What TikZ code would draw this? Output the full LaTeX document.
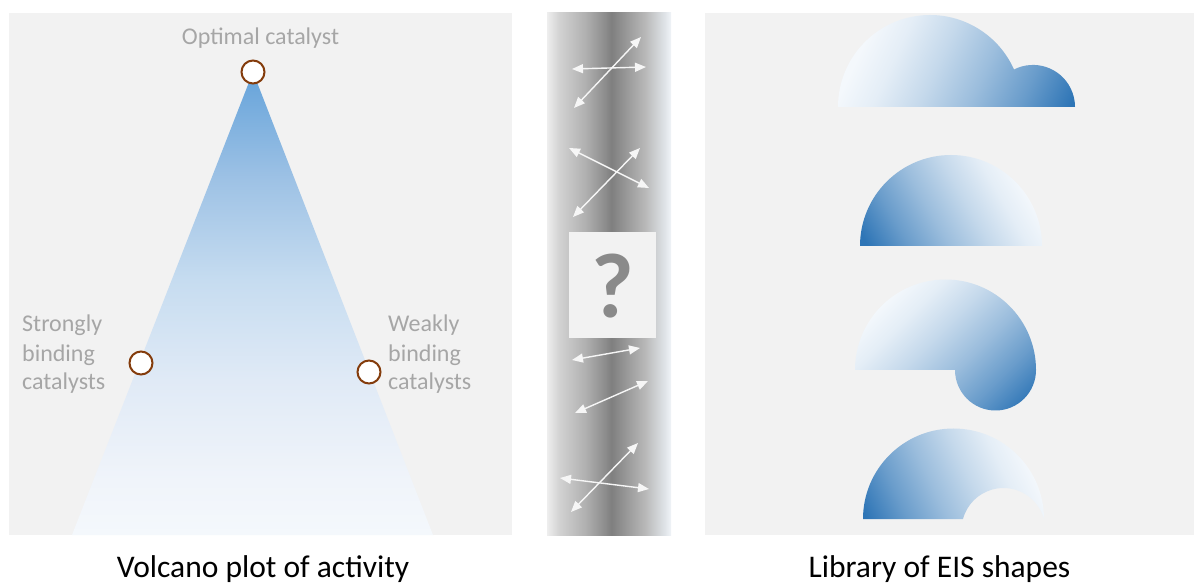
\documentclass[tikz,border=0pt]{standalone}
\usepackage{fontspec}
\setmainfont{Carlito}
\usetikzlibrary{arrows.meta}
\definecolor{panel}{HTML}{F2F2F2}
\definecolor{lbl}{HTML}{A6A6A6}
\definecolor{ring}{HTML}{843C0C}
\definecolor{bD}{HTML}{2E75B6}
\definecolor{bL}{HTML}{F4F8FC}
\definecolor{qm}{HTML}{8A8A8A}
\definecolor{arw}{HTML}{F6F6F6}
\definecolor{s0}{HTML}{EEEEEE}
\definecolor{s1}{HTML}{D2D2D2}
\definecolor{s2}{HTML}{B0B0B0}
\definecolor{s3}{HTML}{8C8C8C}
\definecolor{s4}{HTML}{7F7F7F}
\definecolor{s5}{HTML}{8E8E8E}
\definecolor{s6}{HTML}{B8B8B8}
\definecolor{s7}{HTML}{E0E4E8}
\definecolor{s8}{HTML}{F0F4F8}
\definecolor{t0}{HTML}{F4F8FC}
\definecolor{t1}{HTML}{F0F4FA}
\definecolor{t2}{HTML}{E0EAF6}
\definecolor{t3}{HTML}{C6DCF0}
\definecolor{t4}{HTML}{9EC2E5}
\definecolor{t5}{HTML}{65A3DA}
\colorlet{e0}{bD}
\colorlet{e1}{bD!70!bL}
\colorlet{e2}{bD!45!bL}
\colorlet{e3}{bD!24!bL}
\colorlet{e4}{bD!8!bL}
\colorlet{e5}{bL}
\pgfdeclarehorizontalshading{stripshade}{100bp}{color(0bp)=(s0); color(25bp)=(s0); color(30bp)=(s1); color(40.5bp)=(s2); color(48.5bp)=(s3); color(51bp)=(s4); color(54.5bp)=(s5); color(64.5bp)=(s6); color(72.5bp)=(s7); color(75bp)=(s8); color(100bp)=(s8)}
\pgfdeclareverticalshading{volcshade}{100bp}{color(0bp)=(t0); color(25bp)=(t0); color(30.9bp)=(t1); color(41.7bp)=(t2); color(52.5bp)=(t3); color(63.3bp)=(t4); color(75bp)=(t5); color(100bp)=(t5)}
\pgfdeclareverticalshading{eisshade}{100bp}{color(0bp)=(e0); color(18bp)=(e0); color(30bp)=(e1); color(42bp)=(e2); color(54bp)=(e3); color(65bp)=(e4); color(74bp)=(e5); color(100bp)=(e5)}
\tikzset{
  panelbox/.style={fill=panel, draw=none},
  ringnode/.style={circle, draw=ring, line width=2pt, fill=white, minimum size=23pt, inner sep=0pt},
  lbltext/.style={text=lbl, font=\fontsize{24}{29}\selectfont, inner sep=0pt, anchor=base west},
  captext/.style={font=\fontsize{31.5}{36}\selectfont, inner sep=0pt, anchor=base},
  dblarrow/.style={draw=arw, line width=1.4pt, {Triangle[width=9pt,length=11pt]}-{Triangle[width=9pt,length=11pt]}},
  eis/.style={draw=none, shading=eisshade}
}
\begin{document}
\begin{tikzpicture}[x=1pt,y=1pt]
\useasboundingbox (0,0) rectangle (1194,584);
\fill[white] (0,0) rectangle (1194,584);
% panels
\path[panelbox] (9,49) rectangle (512,571);
\path[panelbox] (705,49) rectangle (1194,571);
\shade[shading=stripshade] (547,49) rectangle (671,571);
% volcano triangle
\shade[shading=volcshade, draw=none] (253,512) -- (433,49) -- (72,49) -- cycle;
\node[ringnode] (opt) at (253,512) {};
\node[ringnode] (strong) at (141,221) {};
\node[ringnode] (weak) at (369,212) {};
\node[text=lbl, font=\fontsize{24}{29}\selectfont, inner sep=0pt, anchor=base] (optlbl) at (260.5,539) {Optimal catalyst};
\node[lbltext] (sl1) at (22,252) {Strongly};
\node[lbltext] (sl2) at (22,222) {binding};
\node[lbltext] (sl3) at (22,194) {catalysts};
\node[lbltext] (wl1) at (388,252) {Weakly};
\node[lbltext] (wl2) at (388,222) {binding};
\node[lbltext] (wl3) at (388,194) {catalysts};
\node[captext] (cap1) at (263,7) {Volcano plot of activity};
\node[captext] (cap2) at (939.5,7) {Library of EIS shapes};
% question box
\path[panelbox] (569,246) rectangle (656,352);
\node[text=qm, font=\fontsize{92}{92}\selectfont\bfseries, inner sep=0pt, anchor=base] (q) at (612.5,266) {?};
% arrows
\coordinate (a1) at (572,515); \coordinate (a2) at (646,517);
\coordinate (b1) at (574,476); \coordinate (b2) at (641,547);
\coordinate (c1) at (569,436); \coordinate (c2) at (649,396);
\coordinate (d1) at (573,367); \coordinate (d2) at (640,436);
\coordinate (e1) at (572,224); \coordinate (e2) at (640,236);
\coordinate (f1) at (575,171); \coordinate (f2) at (648,203);
\coordinate (g1) at (560,106); \coordinate (g2) at (649,95);
\coordinate (h1) at (571,72);  \coordinate (h2) at (638,141);
\foreach \p in {a,b,c,d,e,f,g,h} \draw[dblarrow] (\p1) -- (\p2);
% EIS shapes
\shade[eis, shading angle=65] (838,477) arc[start angle=180, end angle=24.06, radius=92]
   arc[start angle=116.9, end angle=0, radius=42] -- cycle;
\shade[eis, shading angle=-60] (860,338) arc[start angle=180, end angle=0, radius=91] -- cycle;
\shade[eis, shading angle=45] (855,214) arc[start angle=180, end angle=0, radius=90.5]
   arc[start angle=0, end angle=-180, radius=40.5] -- cycle;
\shade[eis, shading angle=-65] (863,65) arc[start angle=180, end angle=0, radius=90.5]
   arc[start angle=15.2, end angle=164.8, radius=42] -- cycle;
\end{tikzpicture}
\end{document}
